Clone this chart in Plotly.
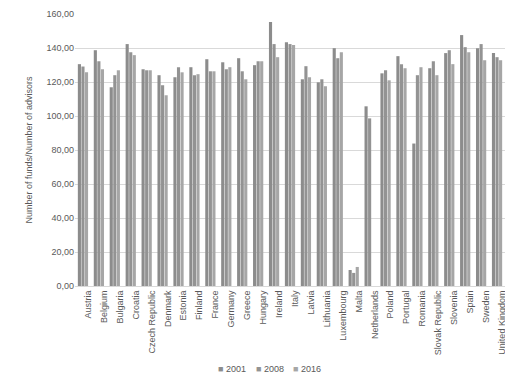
import plotly.graph_objects as go

countries = ["Austria", "Belgium", "Bulgaria", "Croatia", "Czech Republic", "Denmark",
             "Estonia", "Finland", "France", "Germany", "Greece", "Hungary", "Ireland",
             "Italy", "Latvia", "Lithuania", "Luxembourg", "Malta", "Netherlands",
             "Poland", "Portugal", "Romania", "Slovak Republic", "Slovenia", "Spain",
             "Sweden", "United Kingdom"]

v2001 = [130.5, 138.7, 116.9, 142.3, 127.5, 124.0, 122.8, 128.7, 133.4, 131.6, 134.0,
         129.9, 155.3, 143.4, 121.6, 119.8, 139.9, 9.4, 105.7, 125.1, 135.2, 83.8,
         128.1, 137.0, 147.6, 139.9, 137.0]
v2008 = [129.1, 132.2, 124.0, 137.5, 126.9, 118.1, 128.7, 124.0, 126.3, 127.5, 126.3,
         132.2, 142.3, 142.3, 129.3, 121.6, 134.0, 7.7, 98.6, 126.9, 130.5, 124.0,
         132.2, 138.7, 140.5, 142.3, 134.6]
v2016 = [125.7, 127.5, 126.9, 135.8, 126.9, 112.2, 125.7, 124.6, 126.3, 128.7, 121.6,
         132.2, 134.6, 141.7, 122.8, 117.5, 137.5, 11.2, None, 121.0, 128.1, 128.7,
         124.0, 130.5, 137.5, 132.8, 132.8]

series_names = ["2001", "2008", "2016"]
series_vals = [v2001, v2008, v2016]
colors = ["#8c8c8c", "#939393", "#a6a6a6"]

fig = go.Figure()
for name, vals, col in zip(series_names, series_vals, colors):
    fig.add_trace(go.Bar(x=countries, y=vals, name=name, marker_color=col,
                         marker_line_width=0, showlegend=False))

txt = "#595959"
font = dict(family="Liberation Sans, Arial, sans-serif", size=9, color=txt)

# custom compact legend below the plot
legend_x = [0.328, 0.416, 0.503]
for name, col, lx in zip(series_names, colors, legend_x):
    fig.add_annotation(xref="paper", yref="paper", x=lx, y=-0.305, xanchor="left",
                       yanchor="middle", showarrow=False,
                       text=f"<span style='color:{col}'>■</span> {name}",
                       font=dict(family="Liberation Sans, DejaVu Sans, sans-serif",
                                 size=9, color=txt))

fig.update_layout(
    width=505, height=376,
    margin=dict(l=67, r=8, t=6, b=98, autoexpand=False),
    paper_bgcolor="white", plot_bgcolor="white",
    font=font,
    separators=",.",
    barmode="group", bargap=0.33, bargroupgap=0.12,
    xaxis=dict(tickangle=-90, showgrid=False, showline=True, linecolor="#d9d9d9",
               linewidth=1, ticks="", ticklabelshift=5, tickfont=dict(size=9, color=txt)),
    yaxis=dict(range=[0, 160], dtick=20, tickformat=".2f", showgrid=True,
               gridcolor="#d9d9d9", gridwidth=1, zeroline=False, showline=False,
               ticks="", tickfont=dict(size=9, color=txt),
               title=dict(text="Number of funds/Number of advisors",
                          font=dict(size=9, color=txt), standoff=12)),
)

fig.write_html("out.html")
